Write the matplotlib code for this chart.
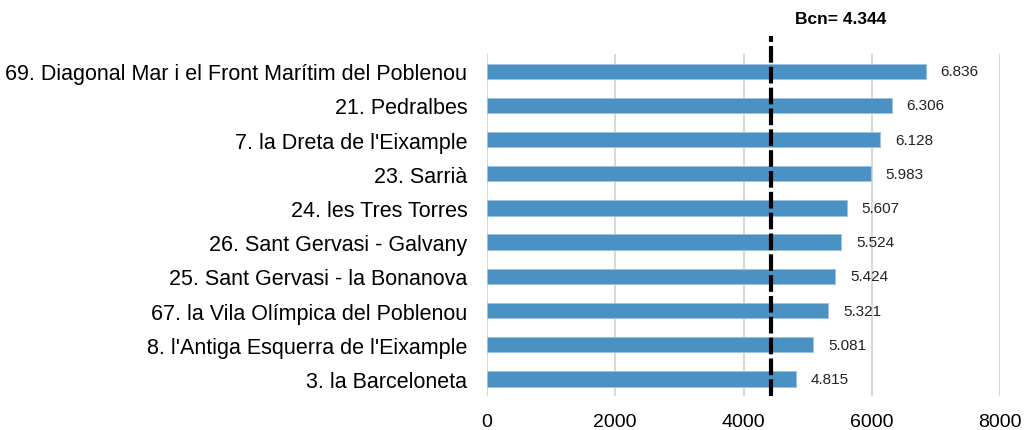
import matplotlib.pyplot as plt
import matplotlib.transforms as mtransforms

plt.rcParams['font.family'] = ['Liberation Sans', 'DejaVu Sans']

barrios = ["69. Diagonal Mar i el Front Marítim del Poblenou",
           "21. Pedralbes",
           "7. la Dreta de l'Eixample",
           "23. Sarrià",
           "24. les Tres Torres",
           "26. Sant Gervasi - Galvany",
           "25. Sant Gervasi - la Bonanova",
           "67. la Vila Olímpica del Poblenou",
           "8. l'Antiga Esquerra de l'Eixample",
           "3. la Barceloneta"]
valores = [6836, 6306, 6128, 5983, 5607, 5524, 5424, 5321, 5081, 4815]
etiquetas = ["6.836", "6.306", "6.128", "5.983", "5.607",
             "5.524", "5.424", "5.321", "5.081", "4.815"]
bcn_pos = 4430
bcn_texto = "Bcn= 4.344"
xticks = [0, 2000, 4000, 6000, 8000]

fig = plt.figure(figsize=(10.27, 4.31), dpi=100)
ax = fig.add_axes([0.474, 0.079, 0.5, 0.793])

y = list(range(len(barrios)))[::-1]
ax.barh(y, valores, height=0.45, color="#4a91c4", edgecolor="#9cc3e0", linewidth=0.6, zorder=3)

for yi, v, t in zip(y, valores, etiquetas):
    ax.annotate(t, (v, yi), xytext=(15, 0), textcoords="offset pixels",
                ha="left", va="center", fontsize=11, color="#222222")

ax.set_xlim(0, 8000)
ax.set_ylim(-0.5, len(barrios) - 0.5)
ax.set_xticks(xticks)
ax.set_xticklabels([str(t) for t in xticks], fontsize=14)
ax.set_yticks(y)
ax.set_yticklabels(barrios, fontsize=15.5)
ax.tick_params(axis="both", length=0)
ax.tick_params(axis="x", pad=12)
ax.tick_params(axis="y", pad=14)
ax.grid(axis="x", color="#d9d9d9", linewidth=1.5, zorder=0)
for s in ax.spines.values():
    s.set_visible(False)

ax.axvline(bcn_pos, ymin=0, ymax=1.053, color="black", linestyle=(0, (4, 1)),
           linewidth=3, clip_on=False, zorder=5)
trans = mtransforms.blended_transform_factory(ax.transData, fig.transFigure)
ax.text(bcn_pos + 1090, 0.955, bcn_texto, transform=trans, ha="center", va="center",
        fontsize=12.5, fontweight="bold")

fig.savefig("out.png", dpi=100)
